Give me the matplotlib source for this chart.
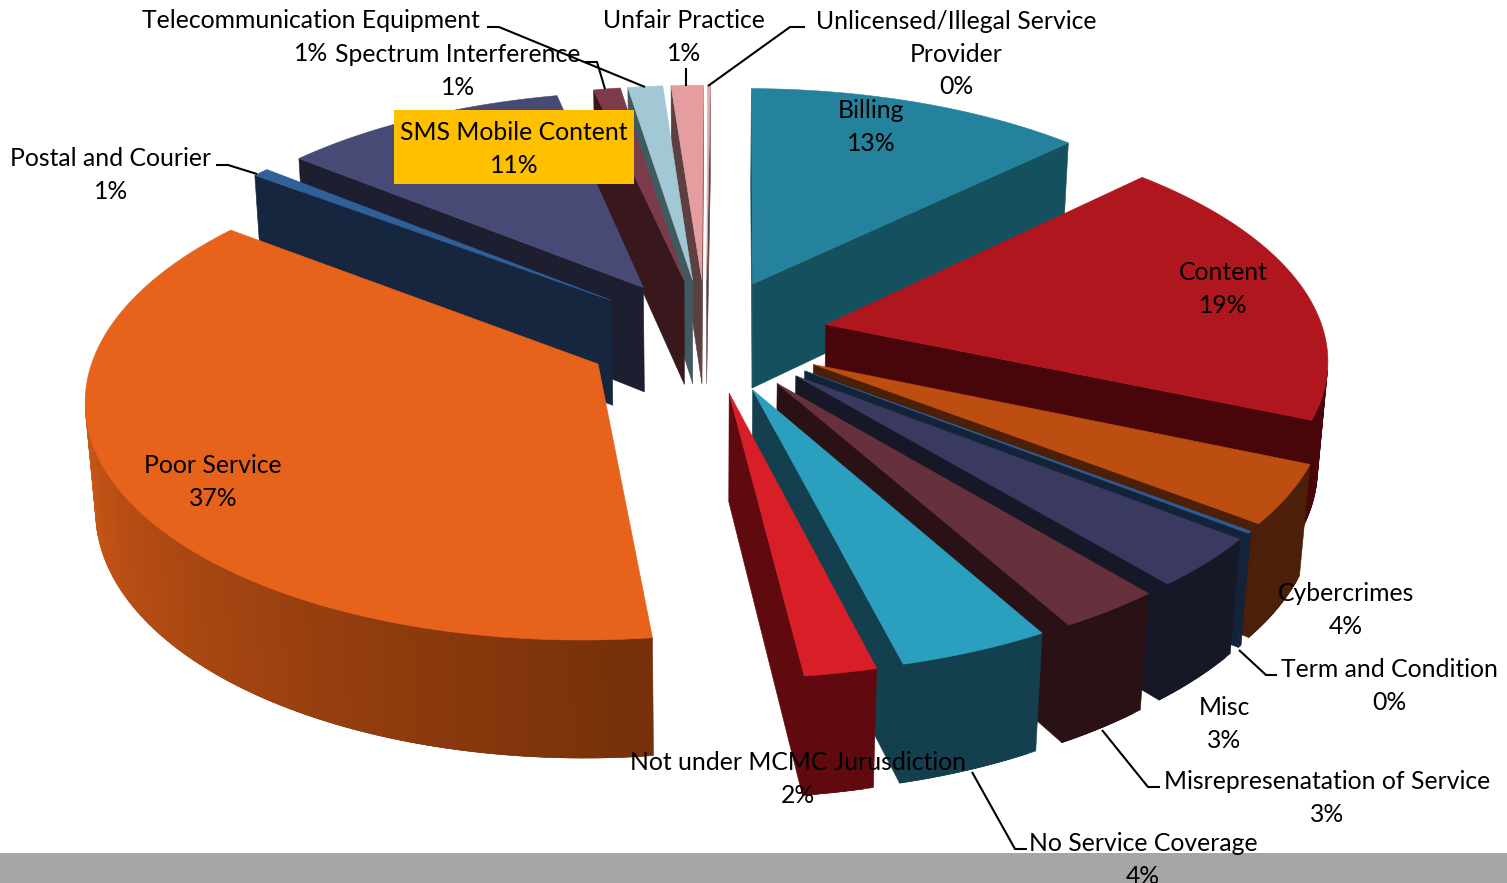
import numpy as np
import matplotlib
matplotlib.use('Agg')
import matplotlib.pyplot as plt
from matplotlib.patches import Rectangle

# complaint categories, clockwise from the first slice angle
categories = ['Billing', 'Content', 'Cybercrimes', 'Term and Condition', 'Misc',
              'Misrepresenatation of Service', 'No Service Coverage',
              'Not under MCMC Jurusdiction', 'Poor Service', 'Postal and Courier',
              'SMS Mobile Content', 'Spectrum Interference', 'Telecommunication Equipment',
              'Unfair Practice', 'Unlicensed/Illegal Service\nProvider']
shares = [12.6, 18.8, 4, 0.15, 3.4, 2.9, 4.2, 2, 37.3, 0.6, 10.7, 1, 1.3, 1.2, 0.1]

top_colors = ['#24829C', '#B0161E', '#BC4E12', '#2D5C96', '#3A3A60', '#66303C', '#2BA0BE',
              '#D81F28', '#E7631B', '#2F6099', '#474A75', '#7D3A4A', '#A2C8D6', '#E59DA0', '#E8A8A8']
side_colors = ['#14505E', '#48050A', '#4C1F08', '#13233A', '#161828', '#2A1116', '#143F4E',
               '#600A10', '#76300A', '#16263F', '#1D1E30', '#38181C', '#435960', '#5C3F40', '#5C3F40']

# centre of each label block in pixels
label_pos = [(871, 127), (1223, 289), (1346, 610), (1389, 686), (1224, 724),
             (1327, 798), (1143, 860), (798, 779), (213, 482), (111, 175),
             (514, 149), (458, 71), (311, 37), (684, 37), (956, 54)]

leaders = [[(487, 27), (499, 27), (645, 87)],
           [(584, 62), (597, 62), (605, 89)],
           [(686, 68), (686, 86)],
           [(805, 27), (790, 27), (708, 86)],
           [(216, 165), (228, 165), (257, 174)],
           [(1277, 675), (1266, 675), (1239, 650)],
           [(1160, 787), (1148, 787), (1102, 730)],
           [(1027, 849), (1015, 849), (972, 772)]]

# view settings for the projected pie
elev = np.radians(27.8)
dist = 6.9
focal = 3440
cx, cy = 706, 335
depth = 0.245
explode = 0.246
first_angle = np.radians(0.5)


def project(x, y, z):
    d = dist + y * np.cos(elev) - z * np.sin(elev)
    sx = cx + focal * x / d
    sy = cy - focal * (y * np.sin(elev) + z * np.cos(elev)) / d
    return sx, sy


def faces_camera(nx, ny, px, py):
    cam_y = -dist * np.cos(elev)
    return nx * (0 - px) + ny * (cam_y - py) > 0


def shade(c1, c2, t):
    a = np.array(matplotlib.colors.to_rgb(c1))
    b = np.array(matplotlib.colors.to_rgb(c2))
    return tuple(a + (b - a) * t)


def poly(ax, xs, ys, color):
    ax.fill(xs, ys, facecolor=color, edgecolor=color, linewidth=0.4, zorder=2)


def draw_wedge(ax, t1, t2, top, side):
    mid = (t1 + t2) / 2
    ox, oy = explode * np.sin(mid), explode * np.cos(mid)

    # straight cut faces
    for t, nx, ny in [(t1, -np.cos(t1), np.sin(t1)), (t2, np.cos(t2), -np.sin(t2))]:
        rx, ry = ox + np.sin(t), oy + np.cos(t)
        if faces_camera(nx, ny, ox, oy):
            xs = np.array([ox, rx, rx, ox])
            ys = np.array([oy, ry, ry, oy])
            zs = np.array([0, 0, -depth, -depth])
            poly(ax, *project(xs, ys, zs), side)

    # rim, one facet per step; each overlaps the next so no seams show
    n = max(int((t2 - t1) / np.radians(1)), 1)
    steps = np.linspace(t1, t2, n + 1)
    for k, (a, b) in enumerate(zip(steps[:-1], steps[1:])):
        m = (a + b) / 2
        px, py = ox + np.sin(m), oy + np.cos(m)
        if faces_camera(np.sin(m), np.cos(m), px, py):
            b2 = steps[min(k + 2, n)]
            xs = ox + np.sin([a, b2, b2, a])
            ys = oy + np.cos([a, b2, b2, a])
            zs = np.array([0, 0, -depth, -depth])
            t = np.clip((np.degrees(m) - 175) / 95, 0, 1)
            poly(ax, *project(xs, ys, zs), shade(side, top, 0.85 * t))

    # top surface
    arc = np.linspace(t1, t2, n * 2 + 2)
    xs = np.r_[ox, ox + np.sin(arc)]
    ys = np.r_[oy, oy + np.cos(arc)]
    poly(ax, *project(xs, ys, np.zeros_like(xs)), top)


plt.rcParams['font.family'] = ['Lato', 'DejaVu Sans']
fig = plt.figure(figsize=(15.07, 8.83), dpi=100)
ax = fig.add_axes([0, 0, 1, 1])
ax.set_xlim(0, 1507)
ax.set_ylim(883, 0)
ax.axis('off')

ax.add_patch(Rectangle((0, 853), 1507, 30, facecolor='#A6A6A6', edgecolor='none', zorder=1))

vals = np.array(shares, dtype=float)
edges = first_angle + np.r_[0, np.cumsum(vals)] / vals.sum() * 2 * np.pi
mids = (edges[:-1] + edges[1:]) / 2

# paint from the far side of the pie to the near side
for i in np.argsort(-np.cos(mids)):
    draw_wedge(ax, edges[i], edges[i + 1], top_colors[i], side_colors[i])

ax.add_patch(Rectangle((394, 110), 240, 74, facecolor='#FFC000', edgecolor='none', zorder=3))

for line in leaders:
    xs, ys = zip(*line)
    ax.plot(xs, ys, color='black', lw=1.5, zorder=4, solid_capstyle='butt')

for name, val, (x, y) in zip(categories, shares, label_pos):
    ax.text(x, y, f'{name}\n{val:.0f}%', ha='center', va='center', fontsize=17.8,
            linespacing=1.5, color='black', zorder=5)

fig.savefig('out.png', dpi=100)
